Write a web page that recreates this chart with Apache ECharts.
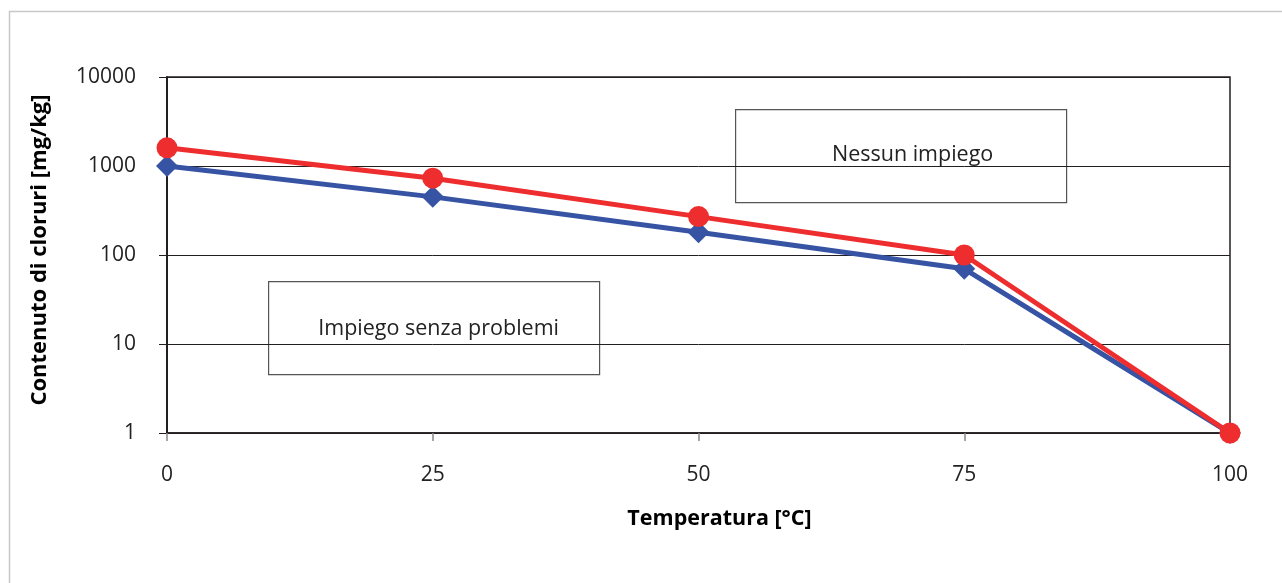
<!DOCTYPE html>
<html><head><meta charset="utf-8">
<script src="https://cdn.jsdelivr.net/npm/echarts@6/dist/echarts.min.js"></script>
<style>html,body{margin:0;padding:0;background:#fff}#c{width:1282px;height:583px}</style>
</head><body><div id="c"></div>
<script>
const temperatures = [0, 25, 50, 75, 100];
const seriesBlue = [1000, 450, 180, 70, 1];
const seriesRed = [1600, 730, 270, 100, 1];
const yTicks = [1, 10, 100, 1000, 10000];
const xTitle = 'Temperatura [°C]';
const yTitle = 'Contenuto di cloruri [mg/kg]';
const labelTop = 'Nessun impiego';
const labelBottom = 'Impiego senza problemi';

const font = '"Open Sans", "Noto Sans", sans-serif';
const chart = echarts.init(document.getElementById('c'), null, {renderer: 'canvas'});
chart.setOption({
  animation: false,
  backgroundColor: '#fff',
  grid: {left: 167, top: 77, right: 52, bottom: 150, show: true, borderColor: '#231f20', borderWidth: 1.5, backgroundColor: 'transparent'},
  xAxis: {
    type: 'value', min: 0, max: 100, interval: 25,
    name: xTitle, nameLocation: 'middle', nameGap: 75,
    nameTextStyle: {fontFamily: font, fontWeight: 'bold', fontSize: 21.5, color: '#000', padding: [0, 0, 0, 42]},
    axisLine: {show: true, lineStyle: {color: '#231f20', width: 1.5}},
    axisTick: {show: true, length: 8, lineStyle: {color: '#888', width: 1.5}},
    axisLabel: {fontFamily: font, fontSize: 21, color: '#222', margin: 32},
    splitLine: {show: false}
  },
  yAxis: {
    type: 'log', logBase: 10, min: 1, max: 10000,
    name: yTitle, nameLocation: 'middle', nameGap: 116,
    nameTextStyle: {fontFamily: font, fontWeight: 'bold', fontSize: 22, color: '#000', padding: [0, 0, 0, 10]},
    axisLine: {show: true, lineStyle: {color: '#231f20', width: 2}},
    axisTick: {show: true, inside: false, length: 8, lineStyle: {color: '#231f20', width: 1}},
    axisLabel: {fontFamily: font, fontSize: 21, color: '#222', margin: 31,
      formatter: v => yTicks.includes(Math.round(v)) ? String(Math.round(v)) : ''},
    splitLine: {show: true, lineStyle: {color: '#231f20', width: 1}},
    minorTick: {show: false}
  },
  series: [
    {type: 'line', data: temperatures.map((t, i) => [t, seriesBlue[i]]),
     symbol: 'diamond', symbolSize: 22, itemStyle: {color: '#3753a4'},
     lineStyle: {color: '#3753a4', width: 5}, z: 3},
    {type: 'line', data: temperatures.map((t, i) => [t, seriesRed[i]]),
     symbol: 'circle', symbolSize: 21, itemStyle: {color: '#ee2e2e'},
     lineStyle: {color: '#ee2e2e', width: 5}, z: 4}
  ],
  graphic: [
    {type: 'rect', left: 7, top: 9, shape: {width: 1300, height: 600}, style: {fill: 'none', stroke: '#c8c8c8', lineWidth: 1.5}, z: -10},
    {type: 'group', left: 735, top: 109, z: 10, children: [
      {type: 'rect', shape: {width: 331, height: 93}, style: {fill: '#fff', stroke: '#555', lineWidth: 1.2}},
      {type: 'text', x: 177, y: 45, style: {text: labelTop, fontFamily: font, fontSize: 21.5, fill: '#222', align: 'center', verticalAlign: 'middle'}}
    ]},
    {type: 'group', left: 268, top: 281, z: 10, children: [
      {type: 'rect', shape: {width: 331, height: 93}, style: {fill: '#fff', stroke: '#555', lineWidth: 1.2}},
      {type: 'text', x: 170, y: 47, style: {text: labelBottom, fontFamily: font, fontSize: 21.5, fill: '#222', align: 'center', verticalAlign: 'middle'}}
    ]}
  ]
});
</script></body></html>
